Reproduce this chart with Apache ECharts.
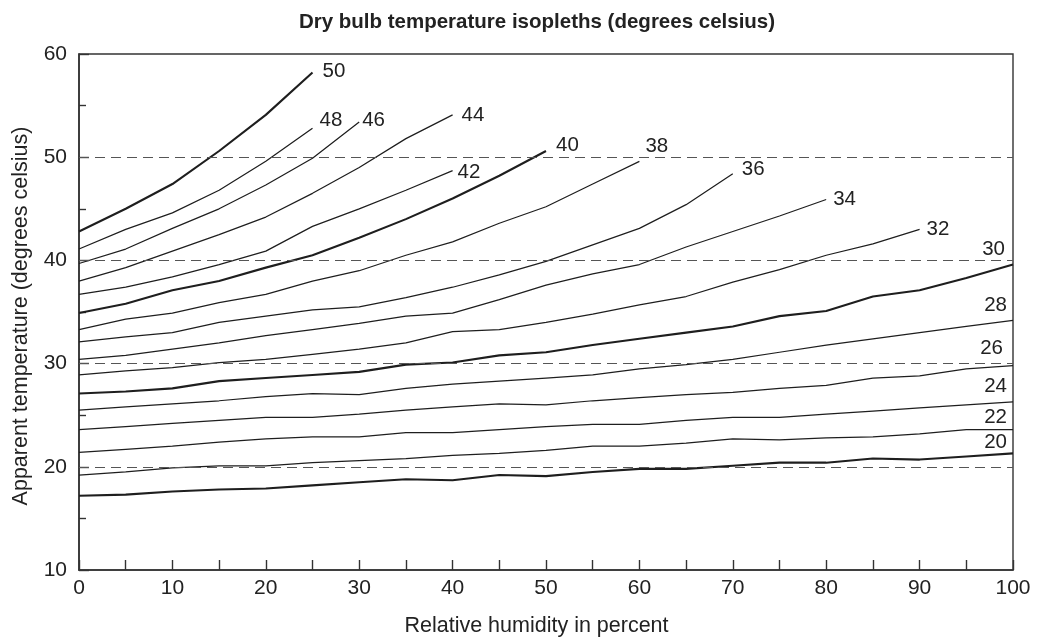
<!DOCTYPE html>
<html>
<head>
<meta charset="utf-8">
<script src="https://cdn.jsdelivr.net/npm/echarts@6/dist/echarts.min.js"></script>
<style>
html,body{margin:0;padding:0;background:#fff;}
#chart{width:1042px;height:642px;}
</style>
</head>
<body>
<div id="chart"></div>
<script>
// ---- data ----
const humidity = [0,5,10,15,20,25,30,35,40,45,50,55,60,65,70,75,80,85,90,95,100];
const xTicks = [0,10,20,30,40,50,60,70,80,90,100];
const yTicks = [10,20,30,40,50,60];
const dashedLevels = [20,30,40,50];
const isoplethTemps = [20,22,24,26,28,30,32,34,36,38,40,42,44,46,48,50];
const iso20 = [17.2,17.3,17.6,17.8,17.9,18.2,18.5,18.8,18.7,19.2,19.1,19.5,19.8,19.8,20.1,20.4,20.4,20.8,20.7,21.0,21.3];
const iso22 = [19.2,19.5,19.9,20.1,20.1,20.4,20.6,20.8,21.1,21.3,21.6,22.0,22.0,22.3,22.7,22.6,22.8,22.9,23.2,23.6,23.6];
const iso24 = [21.4,21.7,22.0,22.4,22.7,22.9,22.9,23.3,23.3,23.6,23.9,24.1,24.1,24.5,24.8,24.8,25.1,25.4,25.7,26.0,26.3];
const iso26 = [23.6,23.9,24.2,24.5,24.8,24.8,25.1,25.5,25.8,26.1,26.0,26.4,26.7,27.0,27.2,27.6,27.9,28.6,28.8,29.5,29.8];
const iso28 = [25.5,25.8,26.1,26.4,26.8,27.1,27.0,27.6,28.0,28.3,28.6,28.9,29.5,29.9,30.4,31.1,31.8,32.4,33.0,33.6,34.2];
const iso30 = [27.1,27.3,27.6,28.3,28.6,28.9,29.2,29.9,30.1,30.8,31.1,31.8,32.4,33.0,33.6,34.6,35.1,36.5,37.1,38.3,39.6];
const iso32 = [28.9,29.3,29.6,30.1,30.4,30.9,31.4,32.0,33.1,33.3,34.0,34.8,35.7,36.5,37.9,39.1,40.5,41.6,43.0];
const iso34 = [30.4,30.8,31.4,32.0,32.7,33.3,33.9,34.6,34.9,36.2,37.6,38.7,39.6,41.3,42.8,44.3,45.9];
const iso36 = [32.1,32.6,33.0,34.0,34.6,35.2,35.5,36.4,37.4,38.6,39.9,41.5,43.1,45.4,48.4];
const iso38 = [33.3,34.3,34.9,35.9,36.7,38.0,39.0,40.5,41.8,43.6,45.2,47.4,49.6];
const iso40 = [34.9,35.8,37.1,38.0,39.3,40.5,42.2,44.0,46.0,48.2,50.6];
const iso42 = [36.7,37.4,38.4,39.6,40.9,43.3,45.0,46.8,48.7];
const iso44 = [38.0,39.3,40.9,42.5,44.2,46.5,49.0,51.8,54.1];
const iso46 = [39.7,41.1,43.1,45.0,47.3,49.9,53.4];
const iso48 = [41.1,43.0,44.6,46.8,49.6,52.8];
const iso50 = [42.8,45.0,47.4,50.6,54.1,58.2];

const seriesValues = [iso20,iso22,iso24,iso26,iso28,iso30,iso32,iso34,iso36,iso38,iso40,iso42,iso44,iso46,iso48,iso50];

// ---- styling ----
const FONT = "'Liberation Sans', Arial, Helvetica, sans-serif";
const INK = '#1e1e1e';
const labelStyle = {
  20:{align:'right',off:[-6,-11]}, 22:{align:'right',off:[-6,-12]}, 24:{align:'right',off:[-6,-15]},
  26:{align:'right',off:[-10,-17]}, 28:{align:'right',off:[-6,-15]}, 30:{align:'right',off:[-8,-15]},
  32:{align:'left',off:[7,0]}, 34:{align:'left',off:[7,0]}, 36:{align:'left',off:[9,-4]},
  38:{align:'left',off:[6,-15]}, 40:{align:'left',off:[10,-6]}, 42:{align:'left',off:[5,2]},
  44:{align:'left',off:[9,0]}, 46:{align:'left',off:[3,-2]}, 48:{align:'left',off:[7,-8]},
  50:{align:'left',off:[10,-1]}
};

const series = isoplethTemps.map((t, k) => {
  const vals = seriesValues[k];
  const thick = (t % 10 === 0);
  const ls = labelStyle[t];
  return {
    name: String(t),
    type: 'line',
    data: vals.map((v, i) => [humidity[i], v]),
    symbol: 'none',
    smooth: false,
    silent: true,
    lineStyle: { color: INK, width: thick ? 2.1 : 1.25 },
    endLabel: {
      show: true,
      formatter: String(t),
      distance: 0,
      align: ls.align,
      verticalAlign: 'middle',
      offset: ls.off,
      color: '#222',
      fontFamily: FONT,
      fontSize: 20.5
    },
    z: 3
  };
});

series.push({
  name: 'ref',
  type: 'line',
  data: [],
  silent: true,
  markLine: {
    silent: true,
    symbol: ['none','none'],
    label: { show: false },
    lineStyle: { color: '#555', width: 1.2, type: [10,6] },
    data: dashedLevels.map(v => ({ yAxis: v }))
  },
  z: 2
});

const chart = echarts.init(document.getElementById('chart'), null, { renderer: 'canvas' });
chart.setOption({
  animation: false,
  backgroundColor: '#fff',
  title: {
    text: 'Dry bulb temperature isopleths (degrees celsius)',
    left: 537,
    top: 12,
    textAlign: 'center',
    padding: 0,
    textStyle: { fontFamily: FONT, fontSize: 20.5, fontWeight: 'bold', color: '#222' }
  },
  grid: {
    left: 79, right: 29, top: 54, bottom: 67,
    show: true, borderColor: '#333', borderWidth: 1.4, backgroundColor: 'transparent',
    containLabel: false
  },
  xAxis: {
    type: 'value',
    min: xTicks[0], max: xTicks[xTicks.length-1], interval: 10,
    name: 'Relative humidity in percent',
    nameLocation: 'middle',
    nameGap: 45,
    nameTextStyle: { fontFamily: FONT, fontSize: 21.5, color: '#222', padding: [0,19,0,0] },
    axisLine: { show: true, lineStyle: { color: '#333', width: 1.6 } },
    axisTick: { show: true, inside: true, length: 10, lineStyle: { color: '#333', width: 1.4 } },
    minorTick: { show: true, splitNumber: 2, length: 10, lineStyle: { color: '#333', width: 1.4 } },
    axisLabel: { margin: 8, fontFamily: FONT, fontSize: 21, color: '#222' },
    splitLine: { show: false }
  },
  yAxis: {
    type: 'value',
    min: yTicks[0], max: yTicks[yTicks.length-1], interval: 10,
    name: 'Apparent temperature (degrees celsius)',
    nameLocation: 'middle',
    nameGap: 47,
    nameTextStyle: { fontFamily: FONT, fontSize: 21.5, color: '#222', padding: [0,8,0,0] },
    axisLine: { show: true, lineStyle: { color: '#333', width: 1.6 } },
    axisTick: { show: true, inside: true, length: 10, lineStyle: { color: '#333', width: 1.4 } },
    minorTick: { show: true, splitNumber: 2, length: 7, lineStyle: { color: '#333', width: 1.4 } },
    axisLabel: { margin: 12, fontFamily: FONT, fontSize: 21, color: '#222' },
    splitLine: { show: false }
  },
  series: series
});
</script>
</body>
</html>
